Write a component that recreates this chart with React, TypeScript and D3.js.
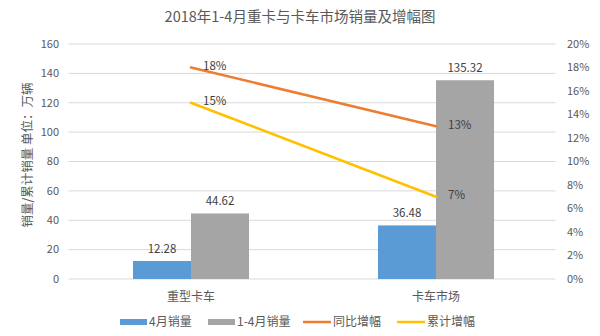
import React from "react";
import * as d3 from "d3";

const categories = ["重型卡车", "卡车市场"];
const aprSales = [12.28, 36.48];
const ytdSales = [44.62, 135.32];
const yoyGrowth = [0.18, 0.13];
const cumGrowth = [0.15, 0.07];
const leftTicks = [0, 20, 40, 60, 80, 100, 120, 140, 160];
const rightTicks = [0, 0.02, 0.04, 0.06, 0.08, 0.1, 0.12, 0.14, 0.16, 0.18, 0.2];

const W = 600;
const H = 336;
const FONT = "'Microsoft YaHei', 'Noto Sans CJK SC', 'Noto Sans', sans-serif";
const TXT = "#595959";

export default function App() {
  const left = 68.5, right = 558.5, top = 44, bottom = 279;
  const x = d3.scaleBand<string>().domain(categories).range([left, right]);
  const y = d3.scaleLinear().domain([0, 160]).range([bottom, top]);
  const y2 = d3.scaleLinear().domain([0, 0.2]).range([bottom, top]);
  const barW = 58;
  const cx = (c: string) => (x(c) as number) + x.bandwidth() / 2;
  const line = d3
    .line<number>()
    .x((_, i) => cx(categories[i]))
    .y((d) => y2(d));
  const pct = d3.format(".0%");

  return (
    <svg width={W} height={H} style={{ position: "absolute", left: 0, top: 0, background: "#fff" }} fontFamily={FONT}>
      <rect x={0} y={0} width={W} height={H} fill="#fff" />
      <text x={300} y={22} textAnchor="middle" fontSize={14.5} fill={TXT}>
        2018年1-4月重卡与卡车市场销量及增幅图
      </text>
      {leftTicks.map((t) => (
        <g key={"l" + t}>
          <line x1={left} x2={right - 3} y1={y(t)} y2={y(t)} stroke="#D9D9D9" strokeWidth={1} />
          <text x={59} y={y(t)} dy="0.35em" textAnchor="end" fontSize={11} fill={TXT}>
            {t}
          </text>
        </g>
      ))}
      {rightTicks.map((t) => (
        <text key={"r" + t} x={567} y={y2(t)} dy="0.35em" textAnchor="start" fontSize={11} fill={TXT}>
          {pct(t)}
        </text>
      ))}
      <text
        transform={`translate(28,155) rotate(-90)`}
        textAnchor="middle"
        dy="0.35em"
        fontSize={12.5}
        fill={TXT}
      >
        销量/累计销量 单位：万辆
      </text>
      {categories.map((c, i) => (
        <g key={c}>
          <rect x={cx(c) - barW} y={y(aprSales[i])} width={barW} height={bottom - y(aprSales[i])} fill="#5B9BD5" />
          <rect x={cx(c)} y={y(ytdSales[i])} width={barW} height={bottom - y(ytdSales[i])} fill="#A5A5A5" />
          <text x={cx(c) - barW / 2} y={y(aprSales[i]) - 8} textAnchor="middle" fontSize={11.5} fill="#404040">
            {aprSales[i].toFixed(2)}
          </text>
          <text x={cx(c) + barW / 2} y={y(ytdSales[i]) - 8} textAnchor="middle" fontSize={11.5} fill="#404040">
            {ytdSales[i].toFixed(2)}
          </text>
          <text x={cx(c)} y={301} textAnchor="middle" fontSize={12} fill={TXT}>
            {c}
          </text>
        </g>
      ))}
      <path d={line(yoyGrowth) || ""} fill="none" stroke="#ED7D31" strokeWidth={2.5} strokeLinecap="round" />
      <path d={line(cumGrowth) || ""} fill="none" stroke="#FFC000" strokeWidth={2.5} strokeLinecap="round" />
      {categories.map((c, i) => (
        <g key={"lab" + c}>
          <text x={cx(c) + 12} y={y2(yoyGrowth[i]) - 1} dy="0.3em" fontSize={11.5} fill="#404040">
            {pct(yoyGrowth[i])}
          </text>
          <text x={cx(c) + 12} y={y2(cumGrowth[i]) - 1} dy="0.3em" fontSize={11.5} fill="#404040">
            {pct(cumGrowth[i])}
          </text>
        </g>
      ))}
      <g fontSize={12} fill={TXT}>
        <rect x={120} y={319} width={27} height={6} fill="#5B9BD5" />
        <text x={149} y={322} dy="0.35em">4月销量</text>
        <rect x={208} y={319} width={27} height={6} fill="#A5A5A5" />
        <text x={237} y={322} dy="0.35em">1-4月销量</text>
        <line x1={303} x2={331} y1={322} y2={322} stroke="#ED7D31" strokeWidth={2.5} />
        <text x={333} y={322} dy="0.35em">同比增幅</text>
        <line x1={397} x2={425} y1={322} y2={322} stroke="#FFC000" strokeWidth={2.5} />
        <text x={427} y={322} dy="0.35em">累计增幅</text>
      </g>
    </svg>
  );
}
